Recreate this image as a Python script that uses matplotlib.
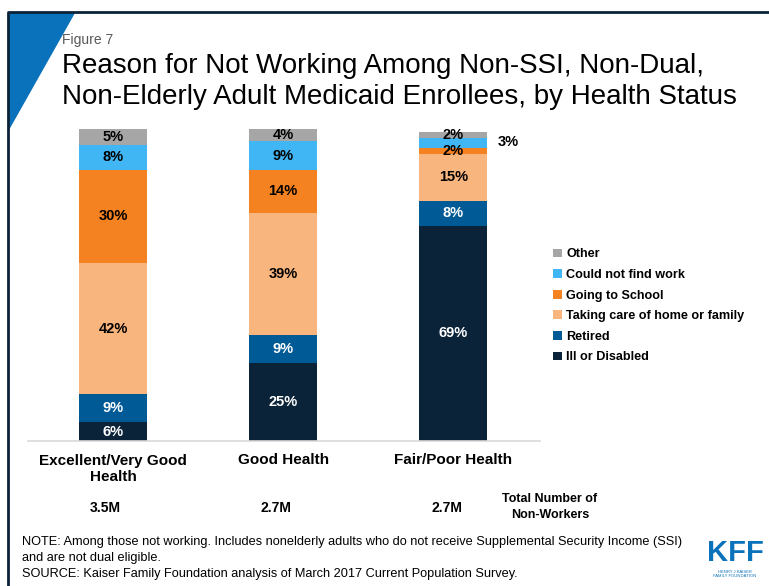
import matplotlib
matplotlib.use("Agg")
import matplotlib.pyplot as plt
from matplotlib.patches import Polygon
from matplotlib.lines import Line2D

plt.rcParams['font.family'] = ['Liberation Sans', 'DejaVu Sans']

# data
groups = ["Excellent/Very Good\nHealth", "Good Health", "Fair/Poor Health"]
totals = ["3.5M", "2.7M", "2.7M"]
reasons = ["Ill or Disabled", "Retired", "Taking care of home or family",
           "Going to School", "Could not find work", "Other"]
ill = [6, 25, 69]
retired = [9, 9, 8]
caring = [42, 39, 15]
school = [30, 14, 2]
no_work = [8, 9, 3]
other = [5, 4, 2]

series = [ill, retired, caring, school, no_work, other]
colors = ["#0B2339", "#005A96", "#F9B57E", "#F58220", "#41B6F5", "#A6A6A6"]
label_colors = ["white", "white", "black", "black", "black", "black"]

W, H = 769, 586
fig = plt.figure(figsize=(W / 100, H / 100), dpi=100)


def px(x, y):
    return x / W, 1 - y / H


# frame and corner triangle
fig.add_artist(Line2D([8 / W, 8 / W, 1], [0, 1 - 12 / H, 1 - 12 / H],
                      transform=fig.transFigure, color="#0B2339", lw=2))
fig.add_artist(Polygon([px(9, 13), px(75, 13), px(9, 130)], closed=True,
                       transform=fig.transFigure, color="#0A72BA", lw=0))

fig.text(*px(62, 40), "Figure 7", fontsize=10, color="#595959", va="center")
fig.text(*px(62, 66), "Reason for Not Working Among Non-SSI, Non-Dual,",
         fontsize=20, va="center")
fig.text(*px(62, 97), "Non-Elderly Adult Medicaid Enrollees, by Health Status",
         fontsize=20, va="center")

# chart
ax = fig.add_axes([28 / W, 1 - 441 / H, (540 - 28) / W, (441 - 129) / H])
x = range(len(groups))
bottom = [0, 0, 0]
for vals, col, lc, name in zip(series, colors, label_colors, reasons):
    ax.bar(x, vals, bottom=bottom, width=0.4, color=col, label=name)
    for i, v in enumerate(vals):
        yc = bottom[i] + v / 2
        if name == "Could not find work" and v < 4:
            # too thin to hold its label, put it beside the bar
            ax.text(i + 0.26, yc + 0.3, f"{v}%", ha="left", va="center",
                    fontsize=10.5, fontweight="bold", color="black")
        else:
            ax.text(i, yc, f"{v}%", ha="center", va="center",
                    fontsize=10.5, fontweight="bold", color=lc)
    bottom = [b + v for b, v in zip(bottom, vals)]

ax.set_xlim(-0.5, 2.51)
ax.set_ylim(0, 100)
for s in ["top", "right", "left"]:
    ax.spines[s].set_visible(False)
ax.spines["bottom"].set_color("#D9D9D9")
ax.spines["bottom"].set_linewidth(1.2)
ax.set_yticks([])
ax.set_xticks(list(x))
ax.set_xticklabels(groups, fontsize=11, fontweight="bold", va="top")
ax.tick_params(axis="x", length=0, pad=9)

for i, t in enumerate(totals):
    fig.text(*px(105 + 171 * i, 508), t, fontsize=10, fontweight="bold",
             ha="center", va="center")
fig.text(*px(550, 507), "Total Number of\nNon-Workers", fontsize=9,
         fontweight="bold", ha="center", va="center", linespacing=1.4)

# legend, top entry first
handles, labels = ax.get_legend_handles_labels()
fig.legend(handles[::-1], labels[::-1], loc="upper left",
           bbox_to_anchor=px(542, 237), frameon=False,
           prop={"weight": "bold", "size": 9.1}, handlelength=0.7,
           handleheight=0.7, handletextpad=0.3, labelspacing=0.68)

# notes
note_font = ['Liberation Sans Narrow', 'Liberation Sans', 'DejaVu Sans']
fig.text(*px(22, 542), "NOTE: Among those not working. Includes nonelderly adults "
         "who do not receive Supplemental Security Income (SSI)",
         fontsize=9.2, family=note_font, va="center")
fig.text(*px(22, 558), "and are not dual eligible.", fontsize=9.2,
         family=note_font, va="center")
fig.text(*px(22, 574), "SOURCE: Kaiser Family Foundation analysis of March 2017 "
         "Current Population Survey.", fontsize=9.2, family=note_font,
         va="center")

# logo
fig.text(*px(735, 553), "KFF", fontsize=21, fontweight="bold", color="#0A72BA",
         ha="center", va="center", family=note_font)
fig.text(*px(735, 574), "HENRY J KAISER\nFAMILY FOUNDATION", fontsize=3,
         color="#0A72BA", ha="center", va="center", linespacing=1.0)

fig.savefig("out.png", dpi=100)
